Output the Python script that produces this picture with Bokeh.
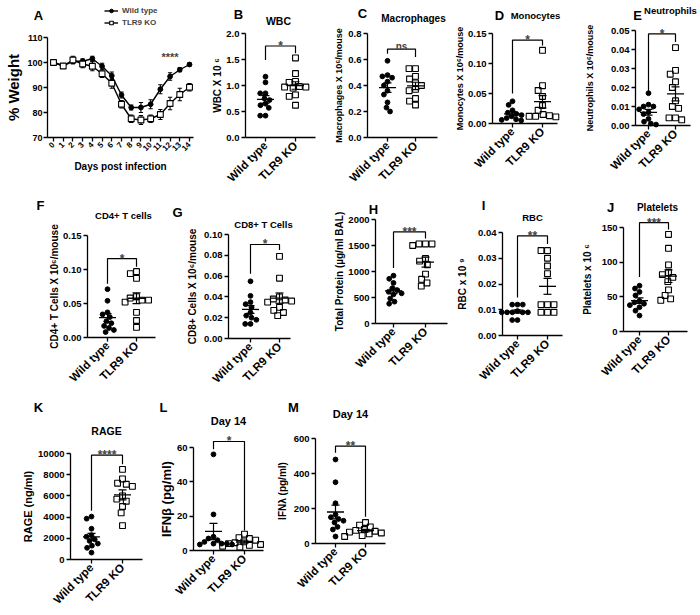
import math
import numpy as np
from bokeh.plotting import figure
from bokeh.models import (Range1d, FixedTicker, PrintfTickFormatter, Label,
                          Legend, LegendItem)
from bokeh.layouts import row, column
from bokeh.embed import file_html
from bokeh.resources import INLINE

FONT = "Liberation Sans"
groups = ["Wild type", "TLR9 KO"]

# ---------------- data ----------------
days = list(range(15))
wt_weight = [100.1, 98.7, 100.5, 100.5, 101.5, 98.5, 94.7, 87.0, 82.0, 82.0, 83.3, 89.3, 94.4, 97.1, 99.2]
wt_weight_err = [0.6, 0.8, 1.0, 1.0, 1.0, 1.2, 1.5, 1.2, 1.0, 2.0, 1.8, 1.8, 1.5, 0.8, 0.6]
ko_weight = [100.0, 98.6, 101.0, 99.4, 98.5, 95.5, 91.7, 83.3, 77.5, 77.0, 77.5, 79.2, 83.6, 87.2, 90.1]
ko_weight_err = [0.6, 0.8, 1.5, 1.5, 1.8, 1.5, 2.0, 1.5, 1.5, 1.8, 1.5, 2.0, 2.5, 2.5, 1.5]

wbc_wt = [1.17, 1.06, 0.85, 0.85, 0.75, 0.72, 0.65, 0.57, 0.42, 0.42, 0.62]
wbc_ko = [1.53, 1.23, 1.06, 1.08, 0.98, 0.97, 0.95, 0.82, 0.79, 0.62, 0.97]
mac_wt = [0.59, 0.48, 0.47, 0.46, 0.43, 0.40, 0.36, 0.33, 0.27, 0.23, 0.20]
mac_ko = [0.53, 0.53, 0.47, 0.45, 0.42, 0.40, 0.37, 0.36, 0.30, 0.28, 0.25]
mono_wt = [0.037, 0.031, 0.022, 0.018, 0.016, 0.014, 0.012, 0.009, 0.007, 0.006, 0.005]
mono_ko = [0.122, 0.063, 0.055, 0.045, 0.030, 0.022, 0.015, 0.013, 0.012, 0.011, 0.012]
neut_wt = [0.017, 0.011, 0.010, 0.010, 0.0085, 0.007, 0.006, 0.0035, 0.002, 0.001, 0.0005]
neut_ko = [0.041, 0.029, 0.027, 0.023, 0.020, 0.013, 0.010, 0.009, 0.004, 0.004, 0.003]
cd4_wt = [0.071, 0.054, 0.037, 0.034, 0.030, 0.024, 0.021, 0.017, 0.014, 0.011, 0.008]
cd4_ko = [0.097, 0.094, 0.087, 0.060, 0.058, 0.055, 0.055, 0.052, 0.037, 0.025, 0.015]
cd8_wt = [0.055, 0.041, 0.035, 0.033, 0.030, 0.025, 0.022, 0.020, 0.018, 0.014, 0.014]
cd8_ko = [0.079, 0.058, 0.040, 0.038, 0.037, 0.036, 0.035, 0.030, 0.027, 0.025, 0.022]
prot_wt = [920, 860, 780, 680, 640, 610, 580, 560, 480, 420, 380]
prot_ko = [1530, 1530, 1530, 1500, 1250, 1200, 1130, 950, 850, 780, 720]
rbc_wt = [0.012, 0.012, 0.012, 0.0095, 0.009, 0.009, 0.009, 0.009, 0.009, 0.006, 0.006]
rbc_ko = [0.033, 0.033, 0.030, 0.027, 0.024, 0.012, 0.012, 0.012, 0.009, 0.009, 0.009]
plt_wt = [66, 62, 57, 52, 44, 42, 40, 38, 35, 30, 23]
plt_ko = [140, 120, 96, 85, 82, 78, 72, 60, 52, 47, 45]
rage_wt = [4050, 3850, 2900, 2300, 2150, 1900, 1750, 1500, 1300, 1100, 650]
rage_ko = [8500, 7600, 7200, 7100, 6900, 6000, 5700, 5500, 5000, 4400, 3200]
ifnb_wt = [56, 21, 8, 7, 6, 5, 4, 4, 4, 3.5, 3.5]
ifnb_ko = [9.5, 7.5, 7, 6, 5, 4.5, 4, 3.5, 3, 2.5, 2]
ifnl_wt = [480, 350, 230, 165, 150, 140, 130, 120, 95, 80, 40]
ifnl_ko = [120, 105, 95, 80, 75, 70, 65, 60, 55, 45, 40]

# ---------------- helpers ----------------
ROWS = {1: (0, 197), 2: (197, 397), 3: (397, 615)}
TICK_FS = 9.5


def tw(s, fs):
    return sum(0.556 if ch.isdigit() else 0.278 for ch in s) * fs


def swarm(vals, ppv, ppu, d):
    vals = np.asarray(vals, dtype=float)
    ys = vals * ppv
    order = np.argsort(-vals, kind="stable")
    placed = []
    xs = np.zeros(len(vals))
    for i in order:
        y = ys[i]
        cands = [0.0]
        for px, py in placed:
            dy = abs(py - y)
            if dy < d:
                dx = math.sqrt(d * d - dy * dy)
                cands += [px - dx, px + dx]
        cands.sort(key=lambda c: (round(abs(c), 6), c))
        for c in cands:
            if all((c - px) ** 2 + (y - py) ** 2 >= d * d - 1e-6 for px, py in placed):
                xs[i] = c
                break
        placed.append((xs[i], y))
    return xs / ppu


def style_axes(p, tick_fs):
    for ax in list(p.xaxis) + list(p.yaxis):
        ax.axis_line_width = 1.3
        ax.axis_line_color = "black"
        ax.major_tick_line_width = 1.3
        ax.major_tick_line_color = "black"
        ax.major_tick_out = 4
        ax.major_tick_in = 0
        ax.minor_tick_line_color = None
        ax.major_label_text_font = FONT
        ax.major_label_text_font_style = "bold"
        ax.major_label_text_font_size = tick_fs
        ax.major_label_text_color = "black"
        ax.major_label_standoff = 2
        ax.axis_label_text_font = FONT
        ax.axis_label_text_font_style = "bold"
        ax.axis_label_text_color = "black"


def make_fig(x0, x1, top, bottom, xr, yr):
    p = figure(width=x1 - x0, height=bottom - top, x_range=xr, y_range=yr,
               output_backend="svg", toolbar_location=None,
               min_border=0, min_border_left=0, min_border_right=0,
               min_border_top=0, min_border_bottom=0)
    p.title.visible = False
    p.outline_line_color = None
    p.xgrid.visible = False
    p.ygrid.visible = False
    p.background_fill_color = "white"
    p.border_fill_color = "white"
    return p


def add_text(p, text, X, Y, x0, bottom, size, align="center", baseline="middle"):
    p.add_layout(Label(x=X - x0, y=bottom - Y, x_units="screen", y_units="screen",
                       text=text, text_font=FONT, text_font_style="bold",
                       text_font_size=size, text_align=align,
                       text_baseline=baseline, text_color="black"))


# ---------------- panel A ----------------
def panel_a():
    top, bottom = ROWS[1]
    x0, x1, l, r, b, tt = 0, 203, 47, 193, 137, 37
    d0px, d14px = 53, 189
    y0, ytop = 70, 110
    ppv = (b - tt) / (ytop - y0)
    upd = (d14px - d0px) / (days[-1] - days[0])
    xr = Range1d(days[0] - (d0px - x0) / upd, days[-1] + (x1 - d14px) / upd)
    yr = Range1d(y0 - (bottom - b) / ppv, ytop + (tt - top) / ppv)
    p = make_fig(x0, x1, top, bottom, xr, yr)
    style_axes(p, "9px")
    xl = days[0] - (d0px - l) / upd
    xe = days[-1] + (r - d14px) / upd
    p.yaxis.fixed_location = xl
    p.xaxis.fixed_location = y0
    p.yaxis.bounds = (y0, ytop)
    p.xaxis.bounds = (xl, xe)
    p.yaxis.ticker = FixedTicker(ticks=list(range(70, 111, 10)))
    p.yaxis.major_label_standoff = 1
    p.yaxis.axis_label = "% Weight"
    p.yaxis.axis_label_text_font_size = "15px"
    p.yaxis.axis_label_standoff = 2
    p.xaxis.ticker = FixedTicker(ticks=days)
    p.xaxis.major_label_orientation = math.pi / 4
    p.xaxis.major_label_text_font_size = "8px"
    p.xaxis.axis_label = "Days post infection"
    p.xaxis.axis_label_text_font_size = "10px"
    p.xaxis.axis_label_standoff = 5

    cw = 0.22
    for vals, errs in ((wt_weight, wt_weight_err), (ko_weight, ko_weight_err)):
        lo = [v - e for v, e in zip(vals, errs)]
        hi = [v + e for v, e in zip(vals, errs)]
        p.segment(days, lo, days, hi, line_color="black", line_width=1.1)
        p.segment([d - cw for d in days], lo, [d + cw for d in days], lo, line_color="black", line_width=1.1)
        p.segment([d - cw for d in days], hi, [d + cw for d in days], hi, line_color="black", line_width=1.1)
    l1 = p.line(days, wt_weight, line_color="black", line_width=1.4)
    s1 = p.scatter(days, wt_weight, marker="circle", size=4.8, fill_color="black", line_color="black")
    l2 = p.line(days, ko_weight, line_color="black", line_width=1.4)
    s2 = p.scatter(days, ko_weight, marker="square", size=5.8, fill_color="white", line_color="black", line_width=1.1)
    legend = Legend(items=[LegendItem(label=groups[0], renderers=[l1, s1]),
                           LegendItem(label=groups[1], renderers=[l2, s2])],
                    location=(104 - x0, bottom - 27), padding=0, margin=0, spacing=3,
                    glyph_width=14, glyph_height=9, label_height=9, label_standoff=4,
                    label_text_font=FONT, label_text_font_style="bold",
                    label_text_font_size="8px", border_line_color=None,
                    background_fill_alpha=0)
    p.add_layout(legend)
    p.add_layout(Label(x=12, y=102.3, text="****", text_font=FONT, text_font_style="bold",
                       text_font_size="11px", text_align="center", text_baseline="alphabetic"))
    add_text(p, "A", 38, 15, x0, bottom, "13px")
    return p


# ---------------- dot panels ----------------
def dot_panel(c):
    top, bottom = ROWS[c["row"]]
    x0, x1 = c["x0"], c["x1"]
    l, r, b, tt = c["l"], c["r"], c["b"], c["tt"]
    y0, ytop = c["y0"], c["ytop"]
    ppv = (b - tt) / (ytop - y0)
    u = c["c2"] - c["c1"]
    xr = Range1d(1 - (c["c1"] - x0) / u, 2 + (x1 - c["c2"]) / u)
    yr = Range1d(y0 - (bottom - b) / ppv, ytop + (tt - top) / ppv)
    p = make_fig(x0, x1, top, bottom, xr, yr)
    style_axes(p, f"{TICK_FS}px")
    xl = 1 - (c["c1"] - l) / u
    xe = 2 + (r - c["c2"]) / u
    p.yaxis.fixed_location = xl
    p.xaxis.fixed_location = y0
    p.yaxis.bounds = (y0, ytop)
    p.xaxis.bounds = (xl, xe)
    ticks = [float(t) for t in np.round(np.arange(y0, ytop + c["step"] / 2, c["step"]), 6)]
    p.yaxis.ticker = FixedTicker(ticks=ticks)
    p.yaxis.formatter = PrintfTickFormatter(format=c["fmt"])
    p.xaxis.ticker = FixedTicker(ticks=[1, 2])
    p.xaxis.major_label_overrides = {1: groups[0], 2: groups[1]}
    p.xaxis.major_label_orientation = math.pi / 4
    p.xaxis.major_label_text_font_size = "11.5px"

    yfs = c["yfs"]
    p.yaxis.axis_label = c["ylabel"]
    p.yaxis.axis_label_text_font_size = f"{yfs}px"
    maxw = max(tw(c["fmt"] % t, TICK_FS) for t in ticks)
    stand = l - 4 - 2 - maxw - (c["yc"] + 0.56 * yfs) - 2
    p.yaxis.axis_label_standoff = int(max(0, round(stand)))

    wt = np.asarray(c["wt"], dtype=float)
    ko = np.asarray(c["ko"], dtype=float)
    xw = 1 + swarm(wt, ppv, u, 5.3)
    xk = 2 + swarm(ko, ppv, u, 6.5)
    p.scatter(xw, wt, marker="circle", size=4.8, fill_color="black", line_color="black")
    p.scatter(xk, ko, marker="square", size=5.8, fill_color=None, line_color="black", line_width=1.1)

    mw = 8.5 / u
    cw = 4.0 / u
    for xc, v in ((1, wt), (2, ko)):
        m = float(v.mean())
        s = float(v.std(ddof=1) / math.sqrt(len(v)))
        p.segment([xc - mw], [m], [xc + mw], [m], line_color="black", line_width=1.3)
        p.segment([xc], [m - s], [xc], [m + s], line_color="black", line_width=1.2)
        p.segment([xc - cw, xc - cw], [m - s, m + s], [xc + cw, xc + cw], [m - s, m + s],
                  line_color="black", line_width=1.2)

    yb, lb, rb = c["bracket"]
    p.line([1, 1, 2, 2], [lb, yb, yb, rb], line_color="black", line_width=1.2)
    st = c["star"]
    p.add_layout(Label(x=1.5, y=yb, y_offset=(3 if st == "ns" else 0), text=st,
                       text_font=FONT, text_font_style="bold",
                       text_font_size=("10px" if st == "ns" else "12px"),
                       text_align="center", text_baseline="alphabetic"))

    lt, lx, ly = c["letter"]
    add_text(p, lt, lx, ly, x0, bottom, "13px")
    if c.get("title"):
        tt_, tx, ty = c["title"]
        add_text(p, tt_, tx, ty, x0, bottom, c.get("title_fs", "10px"))
    return p


panels = [
    dict(row=1, x0=203, x1=325, l=245, r=315, b=137, tt=33, c1=265, c2=295,
         wt=wbc_wt, ko=wbc_ko, y0=0, ytop=2.0, step=0.5, fmt="%.1f",
         ylabel="WBC X 10 ⁶", yfs=10, yc=222,
         letter=("B", 238, 14), title=("WBC", 278, 20), title_fs="10.5px",
         bracket=(1.76, 1.49, 1.62), star="*"),
    dict(row=1, x0=325, x1=452, l=367, r=437, b=137, tt=33, c1=387, c2=415,
         wt=mac_wt, ko=mac_ko, y0=0, ytop=0.8, step=0.2, fmt="%.1f",
         ylabel="Macrophages X 10⁶/mouse", yfs=9, yc=340,
         letter=("C", 362, 13), title=("Macrophages", 413, 18),
         bracket=(0.68, 0.645, 0.62), star="ns"),
    dict(row=1, x0=452, x1=575, l=492, r=557, b=123, tt=33, c1=512, c2=542,
         wt=mono_wt, ko=mono_ko, y0=0, ytop=0.15, step=0.05, fmt="%.2f",
         ylabel="Monocytes X 10⁶/mouse", yfs=9, yc=463,
         letter=("D", 499, 15), title=("Monocytes", 535, 15), title_fs="9.5px",
         bracket=(0.139, 0.05, 0.13), star="*"),
    dict(row=1, x0=575, x1=700, l=635, r=690, b=125, tt=30, c1=648, c2=675,
         wt=neut_wt, ko=neut_ko, y0=0, ytop=0.05, step=0.01, fmt="%.2f",
         ylabel="Neutrophils X 10⁶/mouse", yfs=9, yc=590,
         letter=("E", 637, 15), title=("Neutrophils", 670, 10), title_fs="9.5px",
         bracket=(0.0482, 0.0165, 0.044), star="*"),
    dict(row=2, x0=0, x1=170, l=87, r=155, b=337, tt=235, c1=107, c2=136,
         wt=cd4_wt, ko=cd4_ko, y0=0, ytop=0.15, step=0.05, fmt="%.2f",
         ylabel="CD4+ T Cells X 10⁶/mouse", yfs=10, yc=55,
         letter=("F", 40, 205), title=("CD4+ T cells", 123, 215), title_fs="9.5px",
         bracket=(0.116, 0.079, 0.104), star="*"),
    dict(row=2, x0=170, x1=305, l=228, r=290, b=338, tt=234, c1=250, c2=279,
         wt=cd8_wt, ko=cd8_ko, y0=0, ytop=0.10, step=0.02, fmt="%.2f",
         ylabel="CD8+ Cells X 10⁶/mouse", yfs=10, yc=193,
         letter=("G", 177, 212), title=("CD8+ T Cells", 263, 224), title_fs="9.5px",
         bracket=(0.0904, 0.0623, 0.085), star="*"),
    dict(row=2, x0=305, x1=452, l=375, r=447, b=323, tt=219, c1=393, c2=425,
         wt=prot_wt, ko=prot_ko, y0=0, ytop=2000, step=500, fmt="%d",
         ylabel="Total Protein (µg/ml BAL)", yfs=10, yc=342,
         letter=("H", 373, 209), title=None,
         bracket=(1761, 1069, 1635), star="***"),
    dict(row=2, x0=452, x1=575, l=502, r=562, b=335, tt=232, c1=517, c2=547,
         wt=rbc_wt, ko=rbc_ko, y0=0, ytop=0.04, step=0.01, fmt="%.2f",
         ylabel="RBC x 10 ⁹", yfs=10, yc=463,
         letter=("I", 483, 205), title=("RBC", 532, 217), title_fs="9.5px",
         bracket=(0.0387, 0.0148, 0.0355), star="**"),
    dict(row=2, x0=575, x1=700, l=623, r=687, b=331, tt=227, c1=639, c2=668,
         wt=plt_wt, ko=plt_ko, y0=0, ytop=150, step=50, fmt="%d",
         ylabel="Platelets x 10 ⁶", yfs=10, yc=588,
         letter=("J", 610, 207), title=("Platelets", 657, 207),
         bracket=(157, 78.6, 147), star="***"),
    dict(row=3, x0=0, x1=155, l=70, r=142, b=559, tt=453, c1=91, c2=122,
         wt=rage_wt, ko=rage_ko, y0=0, ytop=10000, step=2000, fmt="%d",
         ylabel="RAGE (ng/ml)", yfs=11, yc=28,
         letter=("K", 38, 407), title=("RAGE", 106, 430), title_fs="10.5px",
         bracket=(9843, 4590, 8990), star="****"),
    dict(row=3, x0=155, x1=268, l=193, r=263, b=550, tt=447, c1=213, c2=244,
         wt=ifnb_wt, ko=ifnb_ko, y0=0, ytop=60, step=20, fmt="%d",
         ylabel="IFNβ (pg/ml)", yfs=13, yc=167,
         letter=("L", 163, 407), title=("Day 14", 228, 420), title_fs="11px",
         bracket=(63.5, 59, 11.6), star="*"),
    dict(row=3, x0=268, x1=400, l=315, r=385, b=543, tt=438, c1=335, c2=365,
         wt=ifnl_wt, ko=ifnl_ko, y0=0, ytop=600, step=200, fmt="%d",
         ylabel="IFNλ (pg/ml)", yfs=10, yc=283,
         letter=("M", 293, 407), title=("Day 14", 350, 413), title_fs="11px",
         bracket=(556, 518, 153), star="**"),
]

figs = [dot_panel(c) for c in panels]
layout = column(
    row(panel_a(), *figs[0:4]),
    row(*figs[4:9]),
    row(*figs[9:12]),
)

open("out.html", "w").write(file_html(layout, INLINE))
